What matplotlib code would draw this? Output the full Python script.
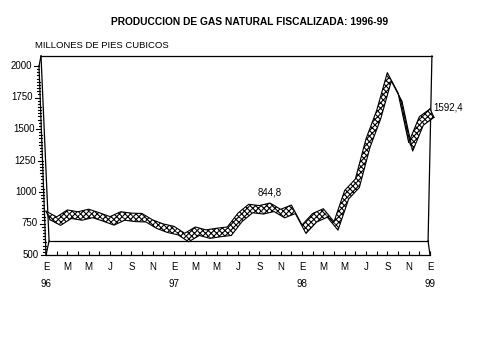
import numpy as np
import matplotlib
matplotlib.use('Agg')
import matplotlib.pyplot as plt
from matplotlib.patches import Polygon
from matplotlib.transforms import blended_transform_factory

plt.rcParams['font.family'] = ['Liberation Sans', 'DejaVu Sans']
plt.rcParams['hatch.linewidth'] = 0.8

# ---------------- data ----------------
title = "PRODUCCION DE GAS NATURAL FISCALIZADA: 1996-99"
unit_label = "MILLONES DE PIES CUBICOS"
month_labels = ["E", "M", "M", "J", "S", "N"] * 3 + ["E"]      # every two months
year_labels = ["96", "97", "98", "99"]                           # under each January
values_1996 = [780, 735, 790, 776, 796, 768, 737, 776, 765, 762, 711, 679]
values_1997 = [660, 605, 655, 632, 645, 655, 765, 835, 825, 844.8, 795, 829]
values_1998 = [671, 762, 800, 697, 945, 1035, 1354, 1580, 1880, 1720, 1325, 1530]
values_1999 = [1592.4]
y_ticks = [500, 750, 1000, 1250, 1500, 1750, 2000]
y_tick_labels = ["500", "750", "1000", "1250", "1500", "1750", "2000"]
labelled_points = {21: "844,8", 36: "1592,4"}

values = np.array(values_1996 + values_1997 + values_1998 + values_1999, dtype=float)
n = len(values)

# ---------------- figure ----------------
W, H = 479, 359
fig = plt.figure(figsize=(W / 100, H / 100), dpi=100)
fig.patch.set_facecolor('white')
ax = fig.add_axes([46 / W, 1 - 255 / H, 384 / W, 189 / H])
ax.set_xlim(0, n - 1)
ax.set_ylim(500, 2000)
ax.patch.set_alpha(0)
for s in ['left', 'right', 'top']:
    ax.spines[s].set_visible(False)
ax.spines['bottom'].set_linewidth(0.9)
ax.set_yticks([])

# x axis
xt = list(range(0, n, 2))
xl = []
yi = 0
for k, m in zip(xt, month_labels):
    if k % 12 == 0:
        xl.append(m + "\n" + year_labels[yi]); yi += 1
    else:
        xl.append(m)
ax.set_xticks(xt)
ax.set_xticklabels(xl, linespacing=1.9, fontsize=7)
ax.set_xticks(range(n), minor=True)
ax.tick_params(axis='x', which='both', direction='in', length=3, width=0.8, pad=5)

# slanted front y axis
tb = blended_transform_factory(ax.transAxes, ax.transData)
slant = -7 / 384
def axis_x(v):
    return slant * (v - 500) / 1500
ax.plot([axis_x(500), axis_x(2000)], [500, 2000], transform=tb, color='k', lw=0.9, clip_on=False)
for v in np.arange(500, 2001, 25):
    L = (5 if v % 250 == 0 else 2.5) / 384
    ax.plot([axis_x(v) - L, axis_x(v)], [v, v], transform=tb, color='k', lw=0.8, clip_on=False)
for v, lab in zip(y_ticks, y_tick_labels):
    ax.text(axis_x(v) - 7 / 384, v, lab, transform=tb, ha='right', va='center', fontsize=7)

# back wall / floor frame (axes fraction)
ta = ax.transAxes
wl_top, wr_top = -0.013, 1.005
wl_bot, wr_bot = 0.008, 0.995
w_top, w_bot = 1.053, 0.074
frame = [
    ([axis_x(2000), wl_top], [1.0, w_top]),
    ([wl_top, wr_top], [w_top, w_top]),
    ([wr_top, wr_bot], [w_top, w_bot]),
    ([wr_bot, wl_bot], [w_bot, w_bot]),
    ([wl_bot, wl_top], [w_bot, w_top]),
    ([wl_bot, 0.0], [w_bot, 0.0]),
    ([wr_bot, 1.0], [w_bot, 0.0]),
]
for xs, ys in frame:
    ax.plot(xs, ys, transform=ta, color='k', lw=0.9, clip_on=False, zorder=2)

# ribbon (3-D line)
px_x = 384 / (n - 1)
px_y = 189 / 1500
FRONT_DX = 4 / px_x
BACK_DY = 8.5 / px_y
x = np.arange(n)
fx, fy = x + FRONT_DX, values
bx, by = x.astype(float), values + BACK_DY
polys_front, polys_back = [], []
for i in range(n - 1):
    dxs = (fx[i + 1] - fx[i]) * px_x
    dys = (fy[i + 1] - fy[i]) * px_y
    ddx = (bx[i] - fx[i]) * px_x
    ddy = (by[i] - fy[i]) * px_y
    cross = dxs * ddy - dys * ddx
    quad = [(fx[i], fy[i]), (fx[i + 1], fy[i + 1]), (bx[i + 1], by[i + 1]), (bx[i], by[i])]
    (polys_front if cross >= 0 else polys_back).append(quad)
for quad in polys_back:
    ax.add_patch(Polygon(quad, closed=True, facecolor='0.3', edgecolor='black',
                         hatch='xxxxxx', linewidth=0, clip_on=False, zorder=3))
for quad in polys_front:
    ax.add_patch(Polygon(quad, closed=True, facecolor='white', edgecolor='black',
                         hatch='xxxxxx', linewidth=0, clip_on=False, zorder=3))
ax.plot(fx, fy, color='k', lw=0.8, clip_on=False, zorder=4)
ax.plot(bx, by, color='k', lw=0.8, clip_on=False, zorder=4)
for i in (0, n - 1):
    ax.plot([fx[i], bx[i]], [fy[i], by[i]], color='k', lw=0.8, clip_on=False, zorder=4)

# data labels
for i, lab in labelled_points.items():
    if i == n - 1:
        ax.annotate(lab, xy=(bx[i], by[i]), xytext=(2.5, 1), textcoords='offset points',
                    ha='left', va='center', fontsize=7, annotation_clip=False)
    else:
        ax.annotate(lab, xy=(bx[i], by[i]), xytext=(0, 7.5), textcoords='offset points',
                    ha='center', va='center', fontsize=7, annotation_clip=False)

fig.text(250 / W, 1 - 22 / H, title, ha='center', va='center', fontsize=7.4, fontweight='bold')
fig.text(35 / W, 1 - 46 / H, unit_label, ha='left', va='center', fontsize=6.8)

fig.savefig('out.png', dpi=100)
